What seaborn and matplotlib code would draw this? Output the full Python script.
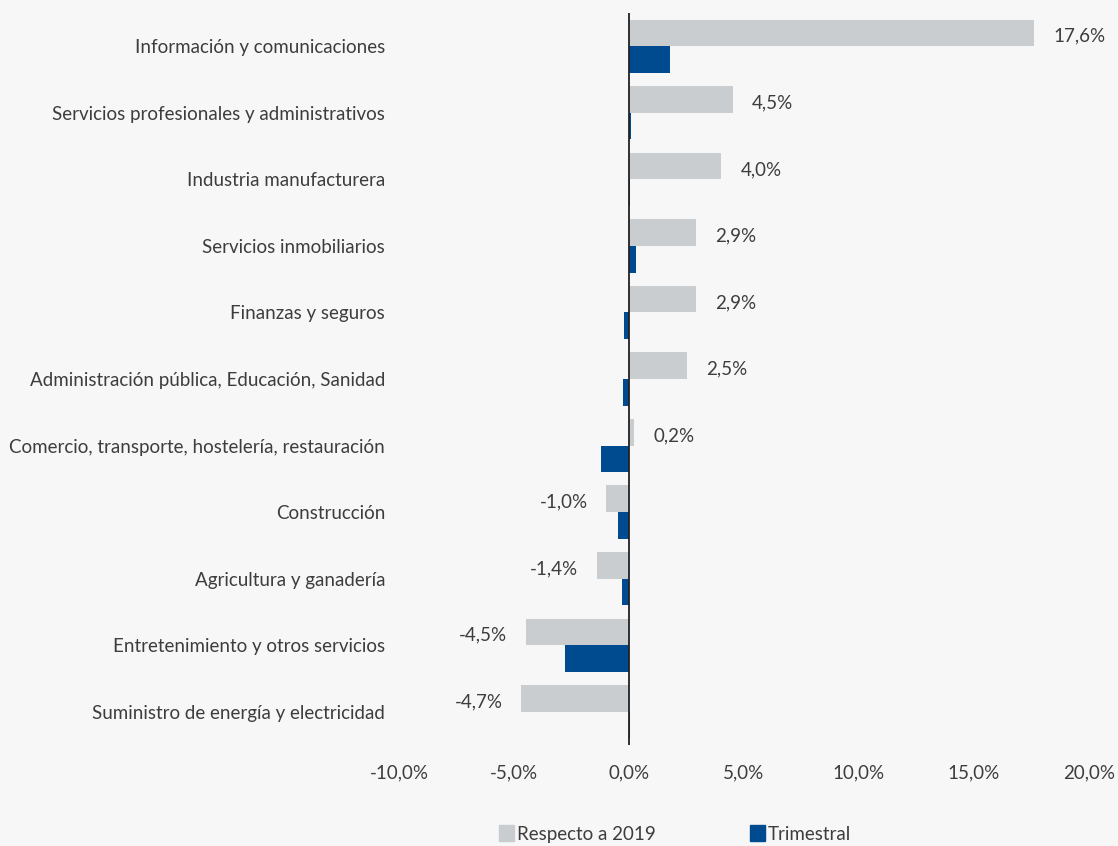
import pandas as pd
import matplotlib.pyplot as plt
import seaborn as sns
from matplotlib.ticker import FuncFormatter
from matplotlib.patches import Patch

sectores = ['Información y comunicaciones',
            'Servicios profesionales y administrativos',
            'Industria manufacturera',
            'Servicios inmobiliarios',
            'Finanzas y seguros',
            'Administración pública, Educación, Sanidad',
            'Comercio, transporte, hostelería, restauración',
            'Construcción',
            'Agricultura y ganadería',
            'Entretenimiento y otros servicios',
            'Suministro de energía y electricidad']
respecto_2019 = [17.6, 4.5, 4.0, 2.9, 2.9, 2.5, 0.2, -1.0, -1.4, -4.5, -4.7]
trimestral = [1.8, 0.1, 0.03, 0.3, -0.2, -0.25, -1.2, -0.5, -0.3, -2.8, 0.05]
series = ['Respecto a 2019', 'Trimestral']
colores = ['#c9cdd0', '#004a8f']

df = pd.DataFrame({
    'sector': sectores * 2,
    'serie': [series[0]] * len(sectores) + [series[1]] * len(sectores),
    'valor': respecto_2019 + trimestral,
})

sns.set_style('white')
plt.rcParams['font.family'] = ['Lato', 'DejaVu Sans']
bg = '#f7f7f7'
txt = '#3d3d3d'
fs = 13.5

fig = plt.figure(figsize=(11.18, 8.46), dpi=100, facecolor=bg)
ax = fig.add_axes([399 / 1118, 1 - 745 / 846, 690 / 1118, 732 / 846])
ax.set_facecolor(bg)

sns.barplot(data=df, x='valor', y='sector', hue='serie', orient='h',
            palette=colores, width=0.8, saturation=1, legend=False,
            edgecolor='none', ax=ax)

# labels on the gray bars
for i, v in enumerate(respecto_2019):
    y = i - 0.15
    lbl = f'{v:.1f}%'.replace('.', ',')
    if v >= 0:
        ax.text(v + 0.85, y, lbl, va='center', ha='left', fontsize=fs, color=txt)
    else:
        ax.text(v - 0.8, y, lbl, va='center', ha='right', fontsize=fs, color=txt)

ax.axvline(0, color='#222222', lw=1.3)
ax.set_xlim(-10, 20)
ax.set_ylim(10.5, -0.5)
ax.set_xticks([-10, -5, 0, 5, 10, 15, 20])
ax.xaxis.set_major_formatter(FuncFormatter(lambda x, p: f'{x:.1f}%'.replace('.', ',')))
ax.tick_params(axis='x', length=0, pad=14, labelsize=fs, labelcolor=txt)
ax.tick_params(axis='y', length=0, pad=10, labelsize=fs, labelcolor=txt)
ax.set_xlabel('')
ax.set_ylabel('')
for s in ax.spines.values():
    s.set_visible(False)

handles = [Patch(color=c) for c in colores]
fig.legend(handles, series, loc='center', bbox_to_anchor=(675 / 1118, 1 - 834 / 846),
           ncol=2, frameon=False, fontsize=fs, handlelength=0.8, handleheight=0.9,
           handletextpad=0.15, columnspacing=5.0, labelcolor=txt)

fig.savefig('out.png', dpi=100, facecolor=bg)
